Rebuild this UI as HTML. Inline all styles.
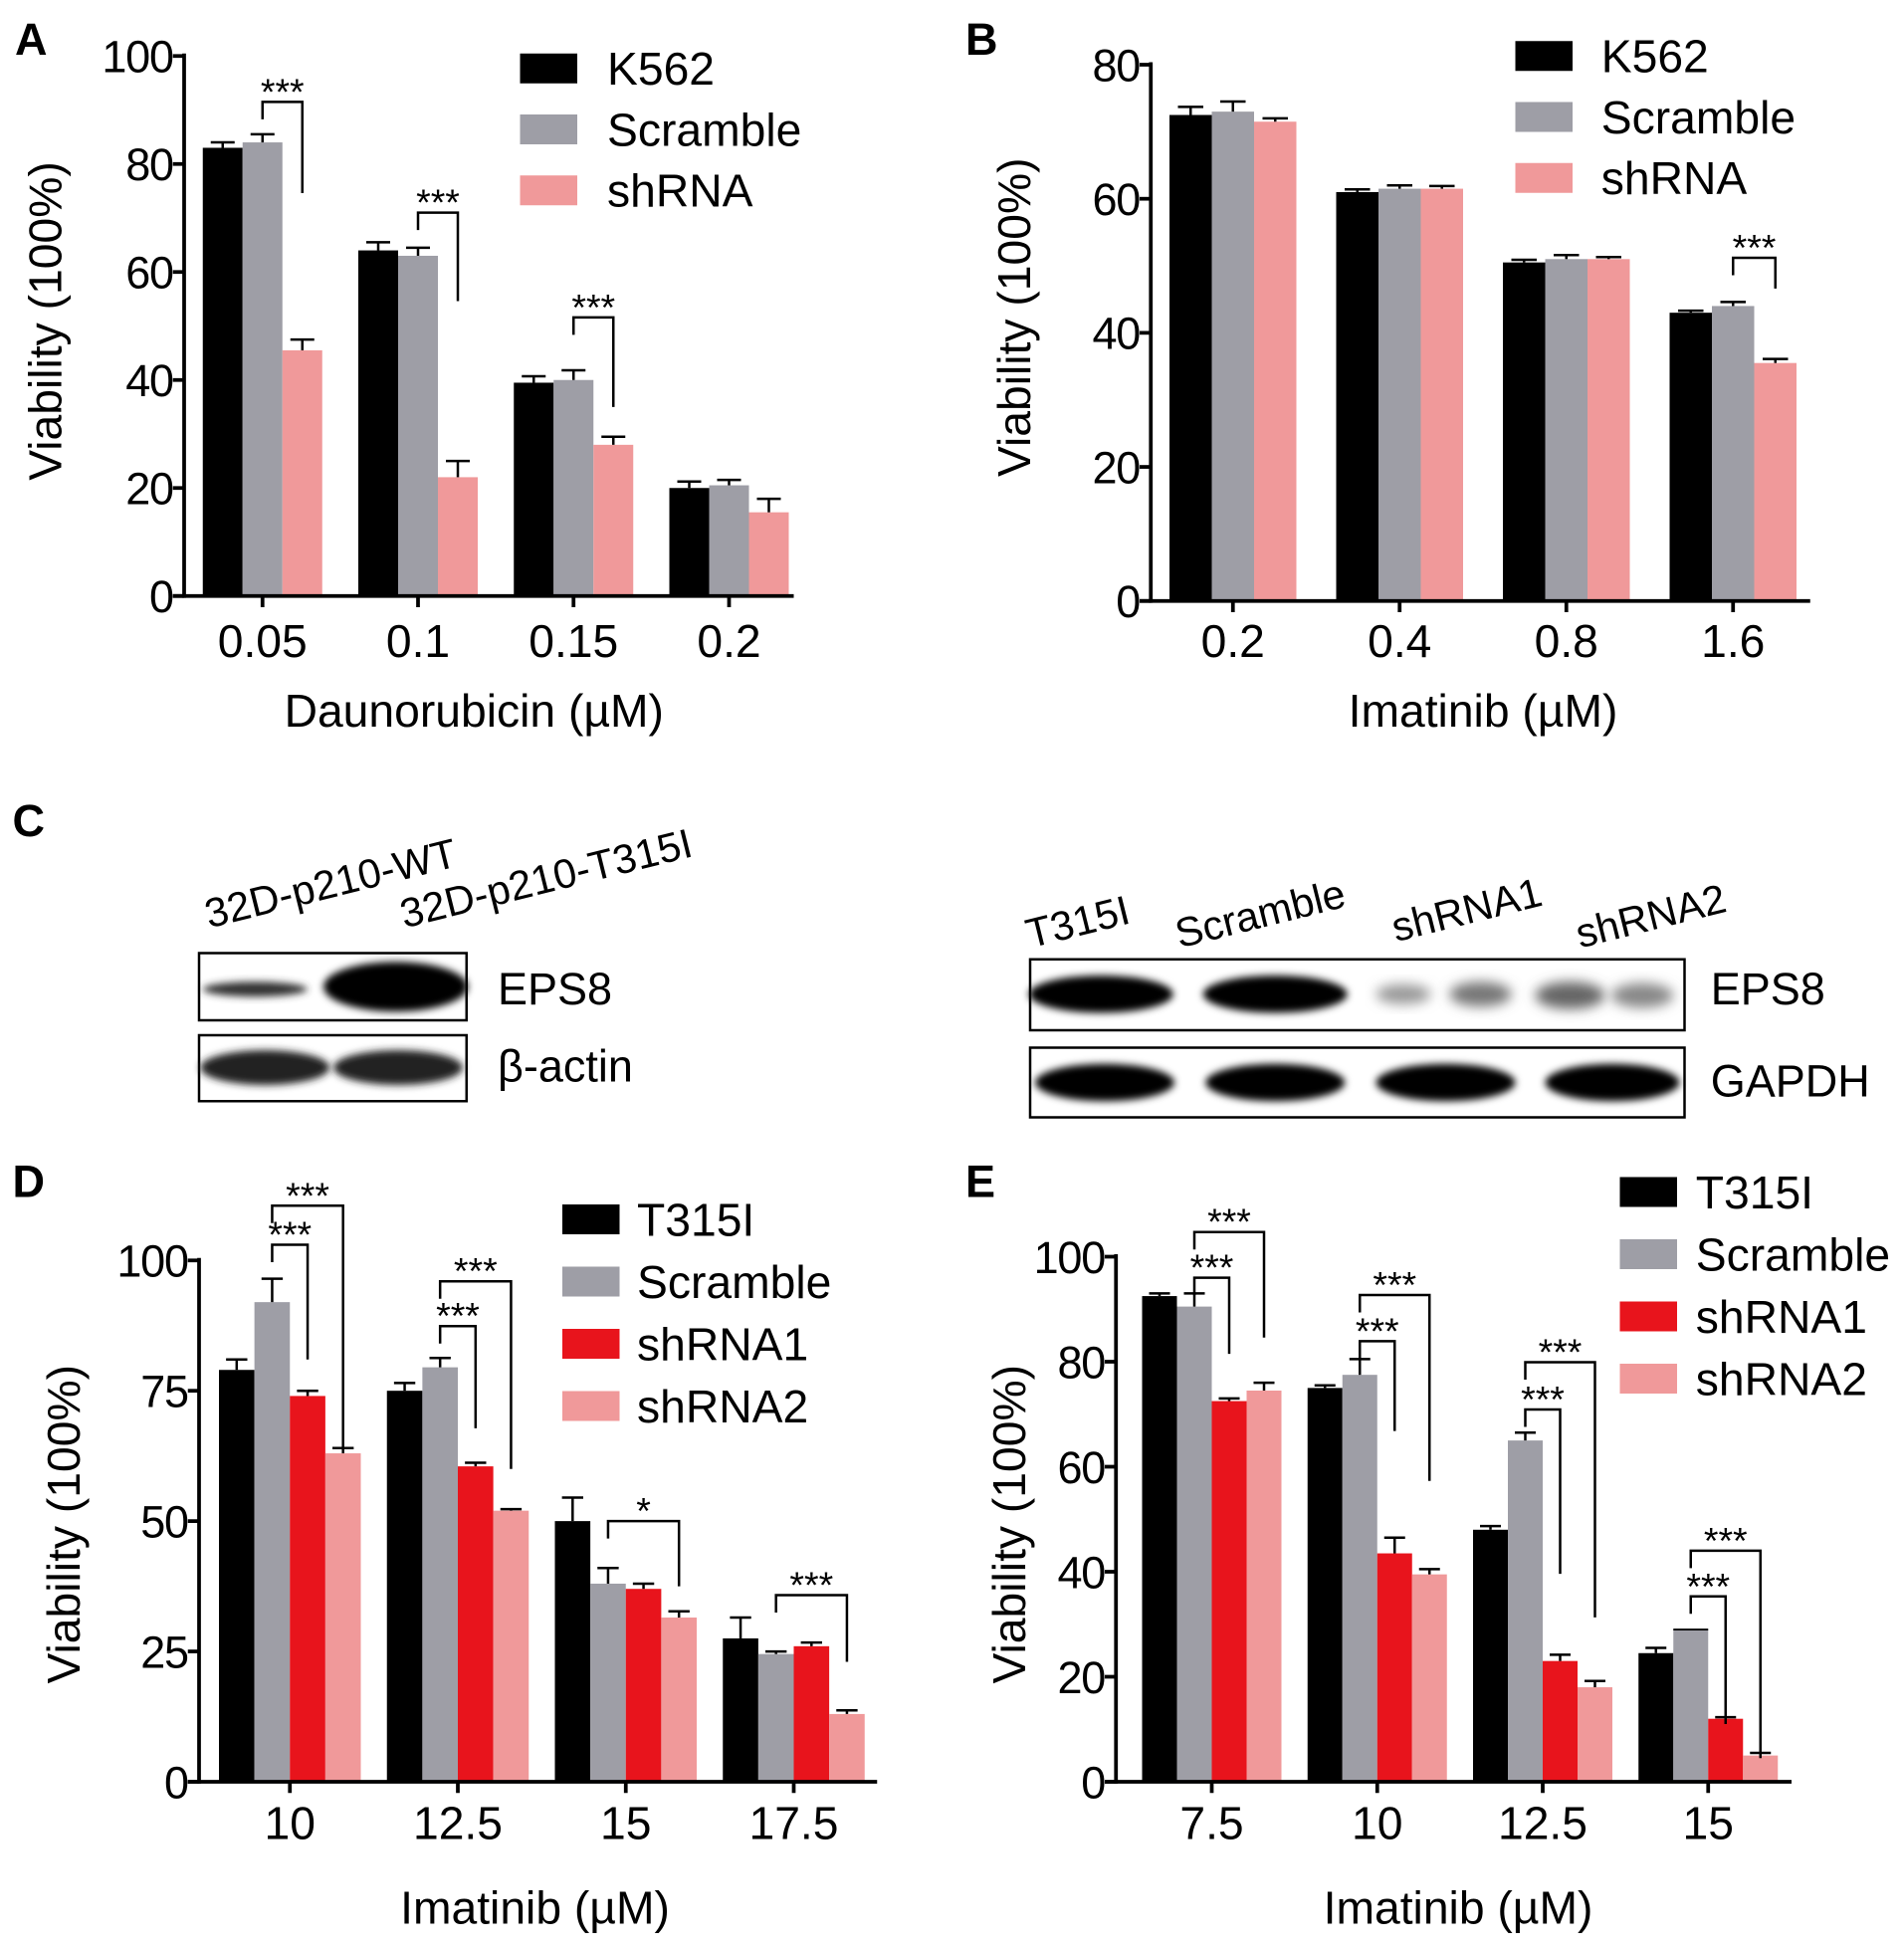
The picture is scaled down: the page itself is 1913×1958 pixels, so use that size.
<!DOCTYPE html>
<html><head><meta charset="utf-8"><style>
html,body{margin:0;padding:0;background:#fff;}
svg{display:block;font-family:"Liberation Sans",Arial,sans-serif;}
</style></head><body>
<svg id="fig" width="1913" height="1958" viewBox="0 0 1530.4 1566.4" xmlns="http://www.w3.org/2000/svg">
<defs><filter id="bl" x="-20%" y="-50%" width="140%" height="200%"><feGaussianBlur stdDeviation="3"/></filter>
<filter id="bl2" x="-20%" y="-50%" width="140%" height="200%"><feGaussianBlur stdDeviation="5"/></filter></defs>
<g font-weight="bold" font-size="36">
<text x="12" y="44">A</text>
<text x="776" y="44">B</text>
<text x="10" y="672">C</text>
<text x="10" y="962">D</text>
<text x="776" y="962">E</text>
</g>
<g id="blots">
<text transform="translate(168,746) rotate(-14)" font-size="33">32D-p210-WT</text>
<text transform="translate(325,746) rotate(-14)" font-size="33">32D-p210-T315I</text>
<rect x="160" y="766" width="215" height="54" fill="#fff" stroke="#000" stroke-width="2"/>
<ellipse cx="205" cy="795" rx="42" ry="6" fill="#333" filter="url(#bl)"/>
<ellipse cx="318" cy="793" rx="58" ry="20" fill="#000" filter="url(#bl)"/>
<rect x="160" y="832" width="215" height="53" fill="#fff" stroke="#000" stroke-width="2"/>
<ellipse cx="213" cy="858" rx="52" ry="14" fill="#222" filter="url(#bl)"/>
<ellipse cx="320" cy="858" rx="52" ry="14" fill="#222" filter="url(#bl)"/>
<text x="400" y="807" font-size="36">EPS8</text>
<text x="400" y="869" font-size="36">β-actin</text>
<text transform="translate(828,762) rotate(-14)" font-size="33">T315I</text>
<text transform="translate(948,762) rotate(-14)" font-size="33">Scramble</text>
<text transform="translate(1122,757) rotate(-14)" font-size="33">shRNA1</text>
<text transform="translate(1270,762) rotate(-14)" font-size="33">shRNA2</text>
<rect x="828" y="771" width="526" height="57" fill="#fff" stroke="#000" stroke-width="2"/>
<ellipse cx="885" cy="799" rx="58" ry="15" fill="#000" filter="url(#bl)"/>
<ellipse cx="1025" cy="799" rx="58" ry="15" fill="#000" filter="url(#bl)"/>
<ellipse cx="1128" cy="799" rx="22" ry="8" fill="#999" filter="url(#bl2)"/>
<ellipse cx="1190" cy="799" rx="25" ry="10" fill="#777" filter="url(#bl2)"/>
<ellipse cx="1262" cy="800" rx="28" ry="11" fill="#666" filter="url(#bl2)"/>
<ellipse cx="1320" cy="800" rx="25" ry="10" fill="#888" filter="url(#bl2)"/>
<rect x="828" y="842" width="526" height="56" fill="#fff" stroke="#000" stroke-width="2"/>
<ellipse cx="888" cy="870" rx="56" ry="15" fill="#000" filter="url(#bl)"/>
<ellipse cx="1025" cy="870" rx="56" ry="15" fill="#000" filter="url(#bl)"/>
<ellipse cx="1162" cy="870" rx="56" ry="15" fill="#000" filter="url(#bl)"/>
<ellipse cx="1296" cy="870" rx="54" ry="15" fill="#000" filter="url(#bl)"/>
<text x="1375" y="807" font-size="36">EPS8</text>
<text x="1375" y="881" font-size="36">GAPDH</text>
</g>
</svg>
<script>
// Panel A data
const aCats = ["0.05","0.1","0.15","0.2"];
const aK562 = [83,64,39.5,20];
const aScr = [84,63,40,20.5];
const aSh = [45.5,22,28,15.5];
const aErr1 = [1,1.5,1.2,1.2];
const aErr2 = [1.5,1.5,1.8,1];
const aErr3 = [2,3,1.5,2.5];
const aTicks = [0,20,40,60,80,100];
const aSig = [[0,91.5,74.6],[1,71,54.6],[2,51.6,35]];
// Panel B data
const bCats = ["0.2","0.4","0.8","1.6"];
const bK562 = [72.5,61,50.5,43];
const bScr = [73,61.5,51,44];
const bSh = [71.5,61.5,51,35.5];
const bErr1 = [1.2,0.4,0.4,0.3];
const bErr2 = [1.5,0.5,0.6,0.6];
const bErr3 = [0.5,0.4,0.3,0.6];
const bTicks = [0,20,40,60,80];
const bSig = [[3,51.2,46.6]];
// Panel D data
const dCats = ["10","12.5","15","17.5"];
const dT = [79,75,50,27.5];
const dScr = [92,79.5,38,24.5];
const dSh1 = [74,60.5,37,26];
const dSh2 = [63,52,31.5,13];
const dErr1 = [2,1.5,4.5,4];
const dErr2 = [4.5,1.8,3,0.5];
const dErr3 = [1,0.7,1,0.7];
const dErr4 = [1,0.3,1.2,0.7];
const dTicks = [0,25,50,75,100];
const dSig = [[0,110.5,63.7,3,"***"],[0,103,81,2,"***"],[1,96,60,3,"***"],[1,87.4,67.8,2,"***"],[2,50,37.5,3,"*"],[3,35.8,23,3,"***"]];
// Panel E data
const eCats = ["7.5","10","12.5","15"];
const eT = [92.5,75,48,24.5];
const eScr = [90.5,77.5,65,29];
const eSh1 = [72.5,43.5,23,12];
const eSh2 = [74.5,39.5,18,5];
const eErr1 = [0.5,0.5,0.7,1];
const eErr2 = [2.5,3,1.5,0];
const eErr3 = [0.5,3,1.2,0.3];
const eErr4 = [1.5,1,1.2,0.5];
const eTicks = [0,20,40,60,80,100];
const eSig = [[0,104.7,84.6,3,"***"],[0,96,81.5,2,"***"],[1,92.7,57.3,3,"***"],[1,83.9,66.8,2,"***"],[2,79.9,31.3,3,"***"],[2,70.9,39.6,2,"***"],[3,44,4.5,3,"***"],[3,35.3,11,2,"***"]];

const NS="http://www.w3.org/2000/svg";
const svg=document.getElementById('fig');
function mk(tag,attrs,parent){const e=document.createElementNS(NS,tag);for(const k in attrs)e.setAttribute(k,attrs[k]);(parent||svg).appendChild(e);return e;}

function chart(cfg){
  const g=mk('g',{});
  
  
  const yS=v=>cfg.y0-(v-0)*(cfg.y0-cfg.yTop)/cfg.yMax;
  const xC=i=>cfg.c0+i*cfg.sp;
  const nS=cfg.series.length, bw=cfg.bw;
  const bx=(i,s)=>xC(i)-nS*bw/2+s*bw;
  cfg.series.forEach((ser,s)=>{
    ser.vals.forEach((v,i)=>{
      const r=mk('rect',{x:bx(i,s),y:yS(v),width:bw,height:yS(0)-yS(v),fill:ser.color},g);
      
      
      const e=ser.err[i];
      if(e>0){
        const cx=bx(i,s)+bw/2;
        mk('line',{x1:cx,x2:cx,y1:yS(v),y2:yS(v+e),stroke:'#000','stroke-width':2},g);
        mk('line',{x1:cx-bw*0.3,x2:cx+bw*0.3,y1:yS(v+e),y2:yS(v+e),stroke:'#000','stroke-width':2},g);
      } else {
        mk('line',{x1:bx(i,s),x2:bx(i,s)+bw,y1:yS(v),y2:yS(v),stroke:'#000','stroke-width':1.5},g);
      }
    });
  });
  const ya=mk('line',{x1:cfg.x0,x2:cfg.x0,y1:yS(cfg.yMax)-2,y2:yS(0)+1.5,stroke:'#000','stroke-width':3},g);
  
  
  const xa=mk('line',{x1:cfg.x0-9,x2:cfg.xR,y1:yS(0),y2:yS(0),stroke:'#000','stroke-width':3},g);
  
  
  cfg.ticks.forEach(t=>{
    mk('line',{x1:cfg.x0-9,x2:cfg.x0,y1:yS(t),y2:yS(t),stroke:'#000','stroke-width':3},g);
    const tx=mk('text',{x:cfg.x0-9,y:yS(t)+13,'text-anchor':'end','font-size':36,'letter-spacing':-1},g);
    tx.textContent=t;
    
    
  });
  cfg.cats.forEach((c,i)=>{
    mk('line',{x1:xC(i),x2:xC(i),y1:yS(0),y2:yS(0)+9,stroke:'#000','stroke-width':3},g);
    const tx=mk('text',{x:xC(i),y:cfg.tickY,'text-anchor':'middle','font-size':37},g);
    tx.textContent=c;
    
    
  });
  const xt=mk('text',{x:cfg.xtX,y:cfg.xtY,'text-anchor':'middle','font-size':37},g);
  xt.textContent=cfg.xTitle;
  
  
  const yt=mk('text',{transform:`translate(${cfg.ytX},${cfg.ytY}) rotate(-90)`,'text-anchor':'middle','font-size':37},g);
  yt.textContent='Viability (100%)';
  
  
  cfg.sig.forEach(sg=>{
    const i=sg[0], top=sg[1], end=sg[2], to=sg[3]||2, lab=sg[4]||"***";
    const xl=bx(i,1)+bw/2, xr=bx(i,to)+bw/2;
    const p=mk('path',{d:`M${xl},${yS(top)+14} L${xl},${yS(top)} L${xr},${yS(top)} L${xr},${yS(end)}`,fill:'none',stroke:'#000','stroke-width':2},g);
    
    
    const st=mk('text',{x:(xl+xr)/2,y:yS(top)+2,'text-anchor':'middle','font-size':30},g);
    st.textContent=lab;
    
    
  });
  cfg.series.forEach((ser,s)=>{
    const y=cfg.legY+s*cfg.legSp;
    const r=mk('rect',{x:cfg.legX,y:y,width:46,height:24,fill:ser.color},g);
    
    
    const t=mk('text',{x:cfg.legX+cfg.legTx,y:y+25,'font-size':37},g);
    t.textContent=ser.label;
    
    
  });
}
const BK='#000', GR='#9e9ea6', PK='#f0999a', RD='#e8141c';
chart({name:'chart-a',x0:148,xR:638,y0:479,yTop:45,yMax:100,ticks:aTicks,cats:aCats,c0:211,sp:125,bw:32,tickY:528,xTitle:'Daunorubicin (µM)',xtX:381,xtY:584,ytX:49,ytY:258,sig:aSig,legX:418,legY:43,legSp:49,legTx:70,
 series:[{label:'K562',color:BK,vals:aK562,err:aErr1},{label:'Scramble',color:GR,vals:aScr,err:aErr2},{label:'shRNA',color:PK,vals:aSh,err:aErr3}]});
chart({name:'chart-b',x0:925,xR:1455,y0:483,yTop:52,yMax:80,ticks:bTicks,cats:bCats,c0:991,sp:134,bw:34,tickY:528,xTitle:'Imatinib (µM)',xtX:1192,xtY:584,ytX:828,ytY:255,sig:bSig,legX:1218,legY:33,legSp:49,legTx:69,
 series:[{label:'K562',color:BK,vals:bK562,err:bErr1},{label:'Scramble',color:GR,vals:bScr,err:bErr2},{label:'shRNA',color:PK,vals:bSh,err:bErr3}]});
chart({name:'chart-d',x0:160,xR:705,y0:1432,yTop:1013,yMax:100,ticks:dTicks,cats:dCats,c0:233,sp:135,bw:28.5,tickY:1478,xTitle:'Imatinib  (µM)',xtX:430,xtY:1546,ytX:64,ytY:1225,sig:dSig,legX:452,legY:968,legSp:50,legTx:60,
 series:[{label:'T315I',color:BK,vals:dT,err:dErr1},{label:'Scramble',color:GR,vals:dScr,err:dErr2},{label:'shRNA1',color:RD,vals:dSh1,err:dErr3},{label:'shRNA2',color:PK,vals:dSh2,err:dErr4}]});
chart({name:'chart-e',x0:897,xR:1440,y0:1432,yTop:1010,yMax:100,ticks:eTicks,cats:eCats,c0:974,sp:133,bw:28,tickY:1478,xTitle:'Imatinib  (µM)',xtX:1172,xtY:1546,ytX:824,ytY:1225,sig:eSig,legX:1302,legY:946,legSp:50,legTx:61,
 series:[{label:'T315I',color:BK,vals:eT,err:eErr1},{label:'Scramble',color:GR,vals:eScr,err:eErr2},{label:'shRNA1',color:RD,vals:eSh1,err:eErr3},{label:'shRNA2',color:PK,vals:eSh2,err:eErr4}]});
</script>
</body></html>
